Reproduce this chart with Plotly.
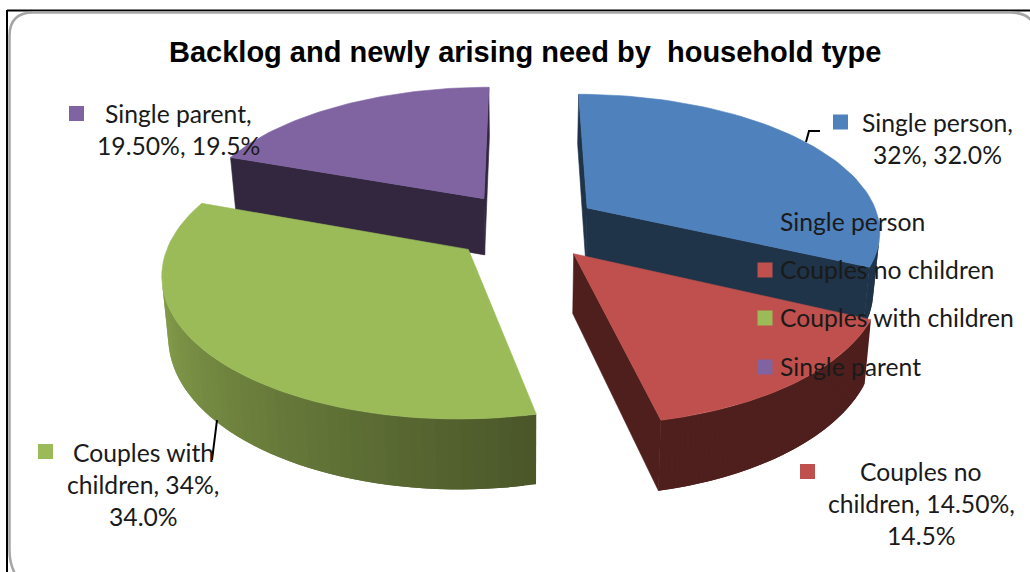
import math
import plotly.graph_objects as go

# Household shares of backlog and newly arising need (percent)
categories = ["Single person", "Couples no children", "Couples with children", "Single parent"]
shares = [32.0, 14.5, 34.0, 19.5]
top_colors = ["#4F81BD", "#C0504D", "#9BBB59", "#8064A2"]
side_near = ["#1F3349", "#4E1F1D", "#4A5629", "#33273F"]
side_far = ["#1F3349", "#4E1F1D", "#90AC52", "#33273F"]
label_lines = [
    ["Single person,", "32%, 32.0%"],
    ["Couples no", "children, 14.50%,", "14.5%"],
    ["Couples with", "children, 34%,", "34.0%"],
    ["Single parent,", "19.50%, 19.5%"],
]
label_centers = [(937, 122), (921, 471), (143, 452), (178, 113)]
label_keys = [(840.5, 122), (807.5, 471.5), (45.5, 451.5), (76.5, 113.5)]
legend_rows = [222, 270, 318, 367]
title = "Backlog and newly arising need by\u00a0 household type"

# Perspective pie geometry: a ground plane seen from a camera above the page
WIDTH, HEIGHT = 1030, 572
VANISH_X, VANISH_Y = 522.0, -670.0
PLANE_Y = 226.0
RADIUS = 288.0
EXPLODE = 73.0
DEPTH_K = 0.000527
THICKNESS = 58.0
LATERAL = 1.02
BOTTOM_X = 0.982
CENTER_X = 3.5
LINE_H = 32
FONT = "Lato"


def project(px, depth, bottom=False):
    s = 1.0 / (1.0 + DEPTH_K * depth)
    span = PLANE_Y - VANISH_Y + (THICKNESS if bottom else 0.0)
    x = px * LATERAL * s * (BOTTOM_X if bottom else 1.0)
    return VANISH_X + x, VANISH_Y + span * s


def mix(a, b, f):
    ca = [int(a[i:i + 2], 16) for i in (1, 3, 5)]
    cb = [int(b[i:i + 2], 16) for i in (1, 3, 5)]
    return "rgb({},{},{})".format(*[round(p + (q - p) * f) for p, q in zip(ca, cb)])


def signed_area(pts):
    return sum(pts[i][0] * pts[(i + 1) % len(pts)][1] - pts[(i + 1) % len(pts)][0] * pts[i][1]
               for i in range(len(pts)))


fig = go.Figure()


def polygon(pts, color, stroke=0.6):
    fig.add_trace(go.Scatter(
        x=[p[0] for p in pts] + [pts[0][0]], y=[p[1] for p in pts] + [pts[0][1]],
        mode="lines", fill="toself", fillcolor=color,
        line=dict(color=color, width=stroke), hoverinfo="skip", showlegend=False))


# Wedge angles come from the shares, clockwise from twelve o'clock
total = sum(shares)
starts, cum = [], 0.0
for v in shares:
    starts.append(cum / total * 2 * math.pi)
    cum += v

# Back slices first so that nearer slices paint over them
for i in [3, 0, 2, 1]:
    t0 = starts[i]
    t1 = t0 + shares[i] / total * 2 * math.pi
    mid = (t0 + t1) / 2
    ax = CENTER_X + EXPLODE * math.sin(mid)
    ad = EXPLODE * math.cos(mid)

    def rim(t, bottom=False):
        return project(ax + RADIUS * math.sin(t), ad + RADIUS * math.cos(t), bottom)

    apex_t, apex_b = project(ax, ad), project(ax, ad, True)
    for quad in ([apex_t, rim(t0), rim(t0, True), apex_b],
                 [rim(t1), apex_t, apex_b, rim(t1, True)]):
        if signed_area(quad) < 0:
            polygon(quad, side_near[i])

    # Outer wall: strips overlap their neighbour so no seams show between them
    n = 60
    angles = [t0 + (t1 - t0) * k / n for k in range(n + 1)]
    for k in range(n):
        far = angles[min(k + 2, n)]
        quad = [rim(angles[k]), rim(far), rim(far, True), rim(angles[k], True)]
        if signed_area(quad) < 0:
            polygon(quad, mix(side_near[i], side_far[i], min(1.0, (k + 0.5) / n * 1.15)), stroke=0)

    polygon([apex_t] + [rim(t) for t in angles], top_colors[i])

# Leader lines from the labels to their slices
for xs, ys in (([806, 809, 820], [142, 131, 131]), ([217, 212], [420, 460])):
    fig.add_trace(go.Scatter(x=xs, y=ys, mode="lines", line=dict(color="#000000", width=2),
                             hoverinfo="skip", showlegend=False))

# Legend keys drawn over the pie, one row per category
fig.add_trace(go.Scatter(x=[765] * 4, y=legend_rows, mode="markers",
                         marker=dict(symbol="square", size=15, color=top_colors),
                         hoverinfo="skip", showlegend=False))
fig.add_trace(go.Scatter(x=[k[0] for k in label_keys], y=[k[1] for k in label_keys], mode="markers",
                         marker=dict(symbol="square", size=15, color=top_colors),
                         hoverinfo="skip", showlegend=False))

notes = [dict(x=525, y=52, text=f"<b>{title}</b>", showarrow=False,
              font=dict(family="Liberation Sans", size=29, color="#000000"))]
for name, row in zip(categories, legend_rows):
    notes.append(dict(x=778, y=row - 1, text=name, showarrow=False, xanchor="left",
                      font=dict(family=FONT, size=24.7, color="#1a1a1a")))
for lines, (cx, cy) in zip(label_lines, label_centers):
    for j, line in enumerate(lines):
        notes.append(dict(x=cx, y=cy + j * LINE_H, text=line, showarrow=False,
                          font=dict(family=FONT, size=24.7, color="#1a1a1a")))

# Black outer edge and the rounded chart frame inside it
shapes = [
    dict(type="line", x0=7, y0=10.5, x1=1030, y1=10.5, line=dict(color="#000000", width=2), layer="below"),
    dict(type="line", x0=7, y0=10, x1=7, y1=572, line=dict(color="#000000", width=2), layer="below"),
    dict(type="path", layer="below", line=dict(color="#A6A6A6", width=2.5),
         path="M 9.5 36 Q 9.5 12.5 33 12.5 L 1010 12.5 Q 1032 12.5 1036 30 L 1036 590 L 30 590 "
              "Q 9.5 576 9.5 550 Z"),
]

fig.update_layout(
    width=WIDTH, height=HEIGHT, margin=dict(l=0, r=0, t=0, b=0, pad=0),
    paper_bgcolor="white", plot_bgcolor="white", showlegend=False,
    xaxis=dict(range=[0, WIDTH], visible=False, fixedrange=True),
    yaxis=dict(range=[HEIGHT, 0], visible=False, fixedrange=True),
    annotations=notes, shapes=shapes,
)
fig.write_html("out.html")
